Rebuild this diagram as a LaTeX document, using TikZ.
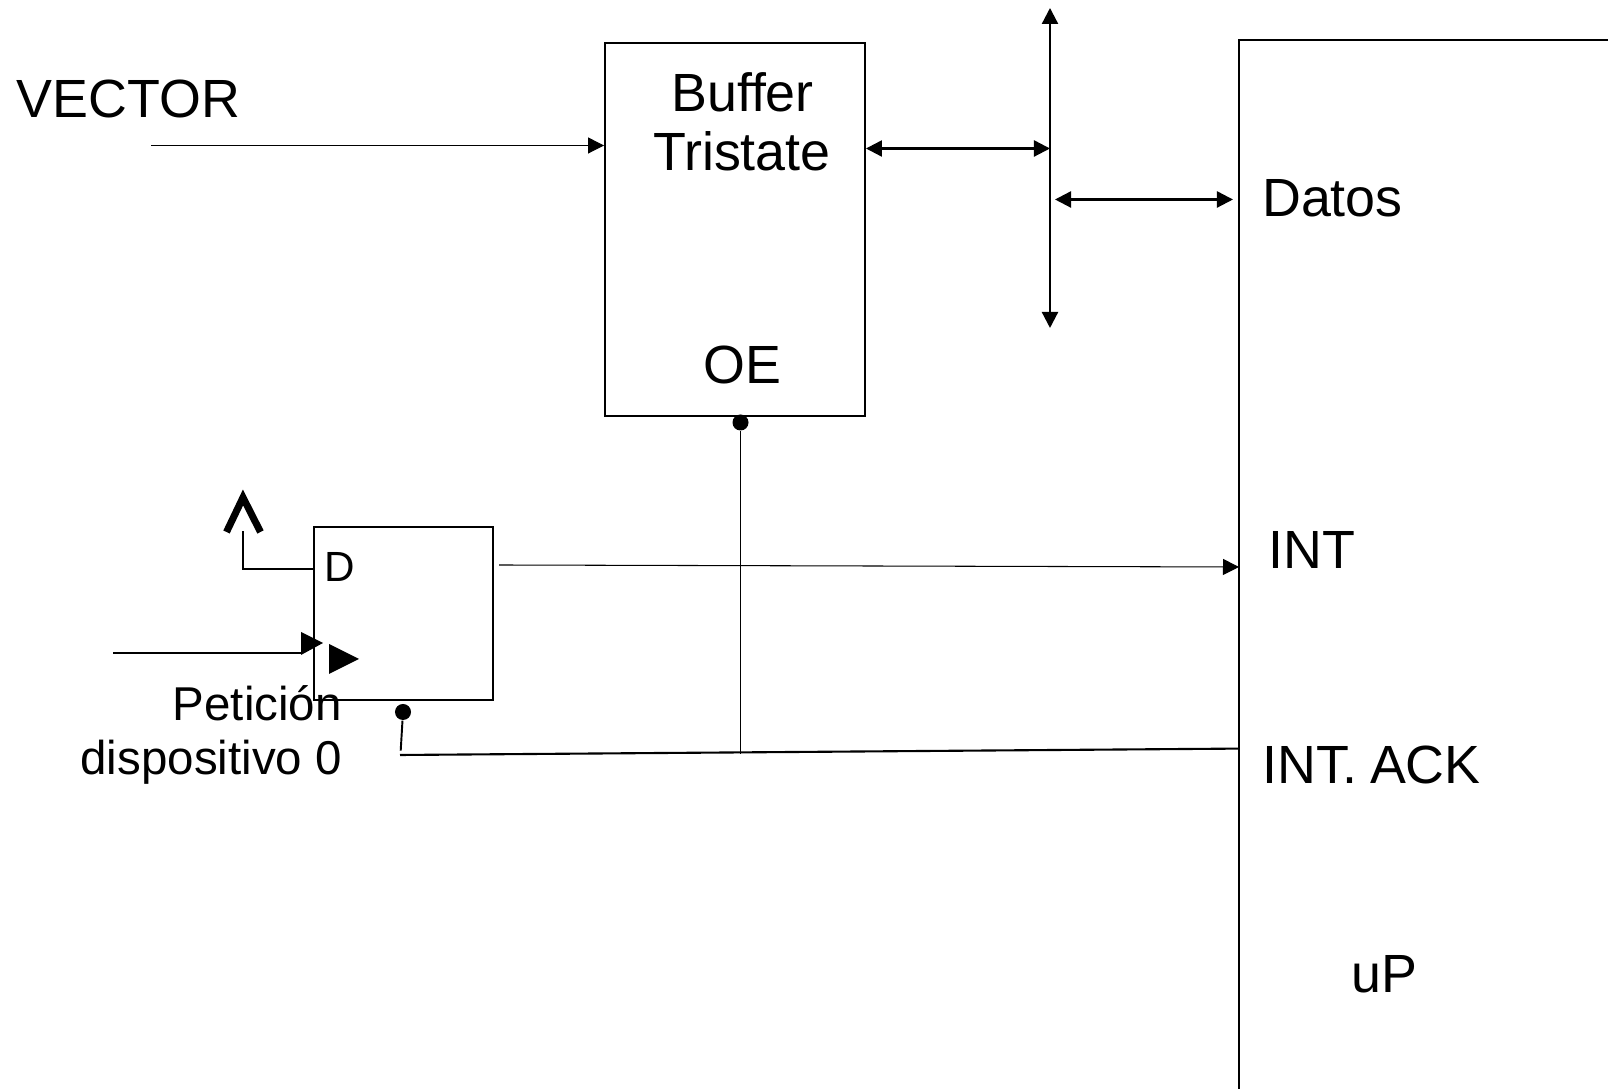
\documentclass[tikz,border=0pt]{standalone}
\usepackage{fontspec}
\setmainfont{Liberation Sans}
\usetikzlibrary{arrows.meta,positioning}

\begin{document}
\begin{tikzpicture}[x=0.01cm,y=-0.01cm]
\tikzstyle{box}=[rectangle, draw=black, line width=0.5pt, inner sep=0pt]
\tikzstyle{bubble}=[circle, fill=black, inner sep=0pt, minimum size=1.6mm]
\tikzstyle{big}=[inner sep=0pt, font=\fontsize{15.3}{18}\selectfont]
\tikzstyle{mid}=[inner sep=0pt, font=\fontsize{13.5}{15}\selectfont]
\tikzstyle{small}=[inner sep=0pt, font=\fontsize{12}{14}\selectfont]
\tikzstyle{wire}=[line width=0.45pt]
\tikzstyle{connect}=[-{Triangle[length=1.6mm,width=1.6mm]}, line width=0.4pt]
\tikzstyle{bidir}=[{Triangle[length=1.6mm,width=1.6mm]}-{Triangle[length=1.6mm,width=1.6mm]}, line width=0.65pt]
\useasboundingbox (0,0) rectangle (1608,1089);
\clip (0,0) rectangle (1608,1089);

	\node[box,minimum width=2.60cm,minimum height=3.73cm] (buffer) at (735,229.5) {};
	\node[box,minimum width=1.79cm,minimum height=1.73cm] (ff) at (403.5,613.5) {};
	\node[box,minimum width=6.00cm,minimum height=12.00cm] (up) at (1539,640.5) {};

	\node[big,anchor=base west] (vector) at (16,117.5) {VECTOR};
	\node[big,anchor=base] (buffer_1) at (742.5,111.5) {Buffer};
	\node[big,anchor=base] (buffer_2) at (742,171) {Tristate};
	\node[big,anchor=base] (oe) at (742.5,383.5) {OE};
	\node[big,anchor=base west] (datos) at (1261.5,217) {Datos};
	\node[big,anchor=base west] (int) at (1268,569) {INT};
	\node[big,anchor=base west] (ack) at (1261.5,783.5) {INT.\hspace{-0.05em} ACK};
	\node[big,anchor=base] (up_name) at (1384.5,993) {uP};
	\node[small,anchor=base west] (d) at (324,582) {D};
	\node[mid,anchor=base east] (pet_1) at (342.5,721) {Petición};
	\node[mid,anchor=base east] (pet_2) at (342.5,775) {dispositivo 0};

	\node[bubble] (oe_bubble) at (740.5,422.5) {};
	\node[bubble] (ff_bubble) at (403,712) {};

	\coordinate (vector_out) at (151,145.5);
	\coordinate (bus_top) at (1050,8);
	\coordinate (bus_bottom) at (1050,328);
	\coordinate (bus_left) at (1050,148.5);
	\coordinate (bus_right) at (1055,199.5);
	\coordinate (datos_in) at (1233,199.5);
	\coordinate (d_in) at (313,569);
	\coordinate (d_up) at (243,531);
	\coordinate (ck_start) at (113,653);
	\coordinate (ck_end) at (301,653);
	\coordinate (int_out) at (499,565);
	\coordinate (int_in) at (1239,567);
	\coordinate (ack_start) at (400,755);
	\coordinate (ack_end) at (1239,748.6);
	\coordinate (oe_foot) at (740.5,754);
	\coordinate (ff_foot) at (400.7,750.7);

	\draw[connect,line width=0.3pt] (vector_out) -- (vector_out -| buffer.west);
	\draw[bidir] (bus_top) -- (bus_bottom);
	\draw[bidir] (bus_left -| buffer.east) -- (bus_left);
	\draw[bidir] (bus_right) -- (datos_in);
	\draw[connect,line width=0.3pt] (int_out) -- (int_in);
	\draw[wire,line width=0.6pt] (ack_start) -- (ack_end);
	\draw[wire,line width=0.5pt] (oe_bubble) -- (oe_foot);
	\draw[wire,line width=0.55pt] (ff_bubble) -- (ff_foot);
	\draw[wire] (d_in) -| (d_up);
	\draw[wire,line width=0.6pt] (ck_start) -- (ck_end);

	\fill (301,632) -- (323,643) -- (301,655) -- cycle;
	\fill (329,644) -- (359,659) -- (329,674) -- cycle;
	\draw[line width=2pt] (226.5,532) -- (243,497.5) -- (260.5,532);

\end{tikzpicture}
\end{document}
